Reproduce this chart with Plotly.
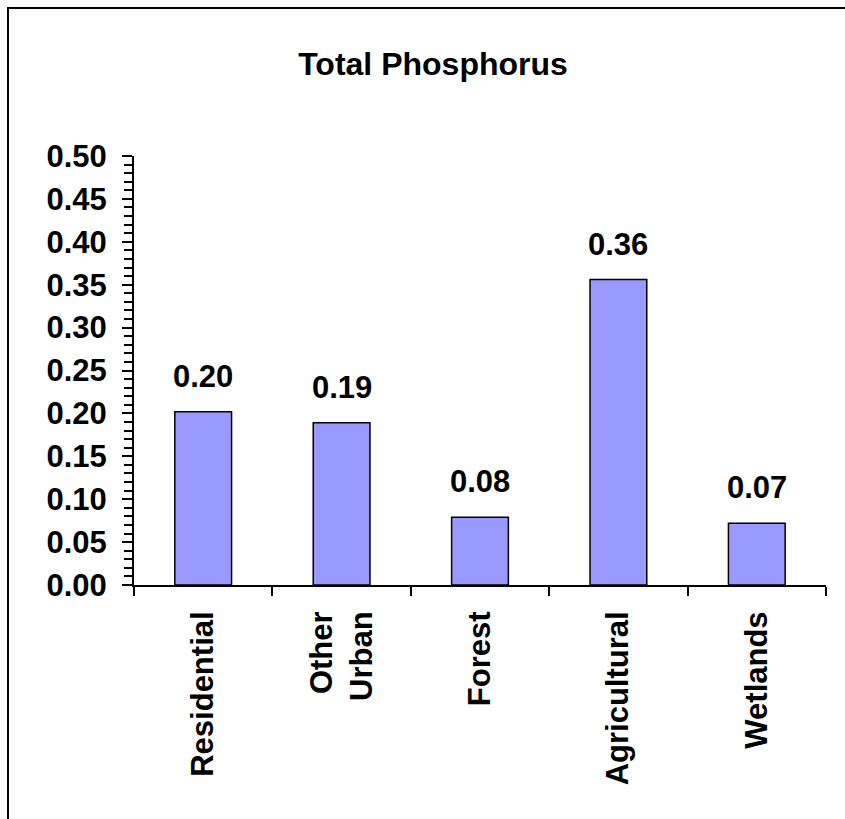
import plotly.graph_objects as go

categories = ["Residential", "Other<br>Urban", "Forest", "Agricultural", "Wetlands"]
values = [0.202, 0.189, 0.079, 0.356, 0.072]
y_tick_step = 0.05
y_minor_step = 0.01
y_range = [0, 0.5]

FONT = "Liberation Sans, Arial, sans-serif"
W, H = 845, 819
L, R, T, B = 134, 19, 156, 234
pw = W - L - R
ph = H - T - B

fig = go.Figure()
fig.add_trace(go.Bar(
    x=categories, y=values,
    marker=dict(color="#9999FF", line=dict(color="black", width=1.5)),
    hoverinfo="skip",
))

for c, v in zip(categories, values):
    fig.add_annotation(
        x=c, y=v, xref="x", yref="y", text=f"{v:.2f}",
        showarrow=False, yanchor="bottom", yshift=16,
        font=dict(family=FONT, size=31, color="black", weight="bold"),
    )

# outer chart border (extends past the visible window on right/bottom)
fig.add_shape(
    type="rect", xref="paper", yref="paper",
    x0=(8 - L) / pw, x1=(1400 - L) / pw,
    y0=(H - B - 1400) / ph, y1=(H - B - 8) / ph,
    line=dict(color="black", width=2), fillcolor="rgba(0,0,0,0)", layer="below",
)

fig.update_layout(
    width=W, height=H,
    margin=dict(l=L, r=R, t=T, b=B, autoexpand=False),
    paper_bgcolor="white", plot_bgcolor="white",
    showlegend=False, bargap=0.59,
    title=dict(
        text="Total Phosphorus", x=433 / W, xref="container", xanchor="center",
        y=1 - 64 / H, yref="container", yanchor="middle",
        font=dict(family=FONT, size=32, color="black", weight="bold"),
    ),
    xaxis=dict(
        type="category", tickson="boundaries", ticks="outside", ticklen=9,
        tickwidth=2, tickcolor="black", showline=True, linewidth=2, linecolor="black",
        tickangle=-90, showgrid=False, zeroline=False, ticklabelstandoff=12,
        tickfont=dict(family=FONT, size=31, color="black", weight="bold"),
    ),
    yaxis=dict(
        range=y_range, dtick=y_tick_step, tick0=0, tickformat=".2f",
        ticks="outside", ticklen=10, tickwidth=2, tickcolor="black",
        showline=True, linewidth=2, linecolor="black", showgrid=False, zeroline=False,
        ticklabelstandoff=9,
        minor=dict(dtick=y_minor_step, tick0=0, ticks="outside", ticklen=8,
                   tickwidth=1.5, tickcolor="black", showgrid=False),
        tickfont=dict(family=FONT, size=31, color="black", weight="bold"),
    ),
    yaxis2=dict(
        overlaying="y", anchor="x", side="left", range=y_range, dtick=y_tick_step,
        tick0=0, ticks="inside", ticklen=11, tickwidth=2, tickcolor="black",
        showticklabels=False, showline=False, showgrid=False, zeroline=False,
    ),
)

fig.write_html("out.html")
